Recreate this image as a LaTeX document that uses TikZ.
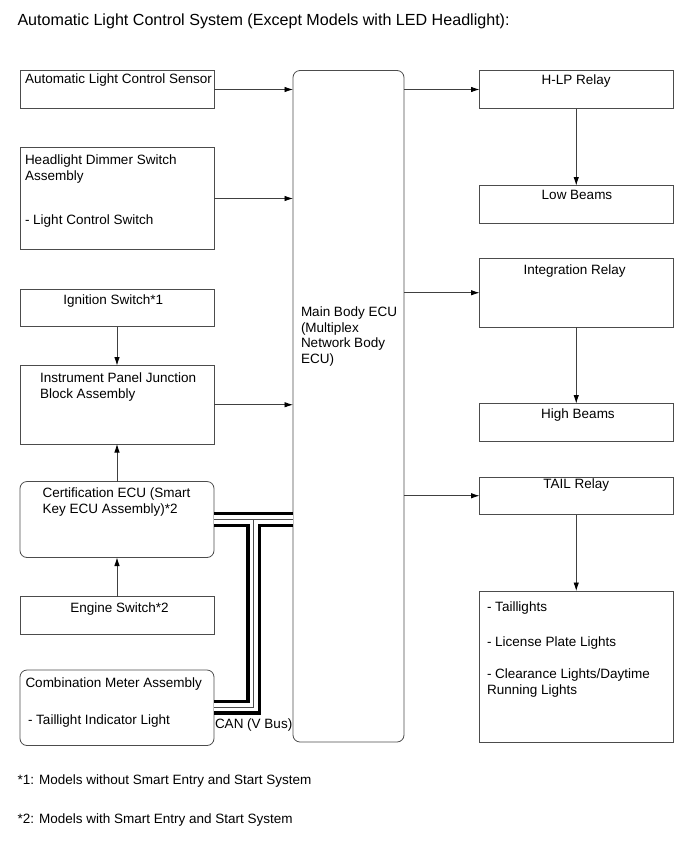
\documentclass[tikz,border=0pt]{standalone}
\usepackage{fontspec}
\setmainfont{Liberation Sans}
\usetikzlibrary{arrows.meta}
\begin{document}
\begin{tikzpicture}[x=1pt,y=-1pt,
  box/.style={draw=black!70,line width=0.8pt,inner sep=0pt,outer sep=0pt,anchor=north west},
  rbox/.style={box,rounded corners=7pt},
  arr/.style={draw=black!75,line width=0.8pt,-{Latex[length=8.5pt,width=5.5pt,color=black]}},
  txt/.style={inner sep=0pt,outer sep=0pt,anchor=base west,font=\fontsize{13.5}{15.5}\selectfont},
  ctxt/.style={txt,anchor=base},
  canblack/.style={line width=15pt,draw=black,line join=miter},
  canwhite/.style={line width=8.5pt,draw=white,line join=miter},
  canthin/.style={line width=0.9pt,draw=black!70,line join=miter}]
\useasboundingbox (0,0) rectangle (690,855);
\newcommand\mkbox[6][box]{\node[#1,minimum width={#4pt-#2pt},minimum height={#5pt-#3pt}] (#6) at (#2,#3) {};}
% boxes
\mkbox{20}{70.5}{214}{108.5}{sensor}
\mkbox{20}{147.5}{214}{249.5}{headl}
\mkbox{20}{289}{214}{326.5}{ign}
\mkbox{20}{365.5}{214}{444}{ipjb}
\mkbox[rbox]{20}{481.5}{214}{557.5}{cert}
\mkbox{20}{596.5}{214}{634}{eng}
\mkbox[rbox]{20}{670}{214}{745.5}{comb}
\mkbox[rbox]{293}{70.5}{404}{742}{ecu}
\mkbox{479.5}{70.5}{673}{108.5}{hlp}
\mkbox{479.5}{185.5}{673}{223}{low}
\mkbox{479.5}{258.5}{673}{327}{integ}
\mkbox{479.5}{403.5}{673}{441}{high}
\mkbox{479.5}{477}{673}{514.5}{tail}
\mkbox{479.5}{591}{673}{742}{lights}
% texts
\node[txt,font=\fontsize{16.1}{18}\selectfont] (title) at (17.5,25) {Automatic Light Control System (Except Models with LED Headlight):};
\node[txt] (t1) at (25,83.5) {Automatic Light Control Sensor};
\node[txt] (t2a) at (25,164.5) {Headlight Dimmer Switch};
\node[txt] (t2b) at (25,180) {Assembly};
\node[txt] (t2c) at (25,224.3) {- Light Control Switch};
\node[ctxt] (t3) at (113.3,304.3) {Ignition Switch*1};
\node[txt] (t4a) at (40,382.6) {Instrument Panel Junction};
\node[txt] (t4b) at (40,398.1) {Block Assembly};
\node[txt] (t5a) at (42.7,497.6) {Certification ECU (Smart};
\node[txt] (t5b) at (42.7,513.1) {Key ECU Assembly)*2};
\node[ctxt] (t6) at (119.5,612.6) {Engine Switch*2};
\node[txt] (t7a) at (25.5,687.6) {Combination Meter Assembly};
\node[txt] (t7b) at (28,724.3) {- Taillight Indicator Light};
\node[txt] (tcan) at (215,728.6) {CAN (V Bus)};
\node[txt] (te1) at (301,316.6) {Main Body ECU};
\node[txt] (te2) at (301,332.1) {(Multiplex};
\node[txt] (te3) at (301,347.6) {Network Body};
\node[txt] (te4) at (301,363.1) {ECU)};
\node[ctxt] (t8) at (576.2,84.3) {H-LP Relay};
\node[ctxt] (t9) at (577,199.3) {Low Beams};
\node[ctxt] (t10) at (574.7,274.3) {Integration Relay};
\node[ctxt] (t11) at (578,418.6) {High Beams};
\node[ctxt] (t12) at (576.2,488.6) {TAIL Relay};
\node[txt] (t13a) at (487,611) {- Taillights};
\node[txt] (t13b) at (487,646) {- License Plate Lights};
\node[txt] (t13c) at (487,678.6) {- Clearance Lights/Daytime};
\node[txt] (t13d) at (487,694.6) {Running Lights};
\node[txt] (f1) at (17.5,784) {*1: Models without Smart Entry and Start System};
\node[txt] (f2) at (17.5,823) {*2: Models with Smart Entry and Start System};
% arrows
\draw[arr] (sensor.east) -- (sensor.east -| ecu.west);
\draw[arr] (headl.east) -- (headl.east -| ecu.west);
\draw[arr] (ipjb.east) -- (ipjb.east -| ecu.west);
\draw[arr] (hlp.west -| ecu.east) -- (hlp.west);
\draw[arr] (integ.west -| ecu.east) -- (integ.west);
\draw[arr] (tail.west -| ecu.east) -- (tail.west);
\draw[arr] (hlp.south) -- (low.north);
\draw[arr] (integ.south) -- (high.north);
\draw[arr] (tail.south) -- (lights.north);
\draw[arr] (ign.south) -- (ipjb.north);
\draw[arr] (cert.north) -- (ipjb.south);
\draw[arr] (eng.north) -- (cert.south);
% CAN bus
\coordinate (canY) at (0,519.5);
\coordinate (canA) at (cert.east |- canY);
\coordinate (canB) at (ecu.west |- canY);
\coordinate (canJ) at (253.8,519.5);
\coordinate (canC) at (253.8,707);
\coordinate (canD) at (comb.east |- canC);
\draw[canblack] (canA) -- (canB);
\draw[canblack] (canJ) -- (canC) -- (canD);
\draw[canwhite] (canA) -- (canB);
\draw[canwhite] (canJ) -- (canC) -- (canD);
\draw[canthin] (canA) -- (canB);
\draw[canthin] (canJ) -- (canC) -- (canD);
\end{tikzpicture}
\end{document}
